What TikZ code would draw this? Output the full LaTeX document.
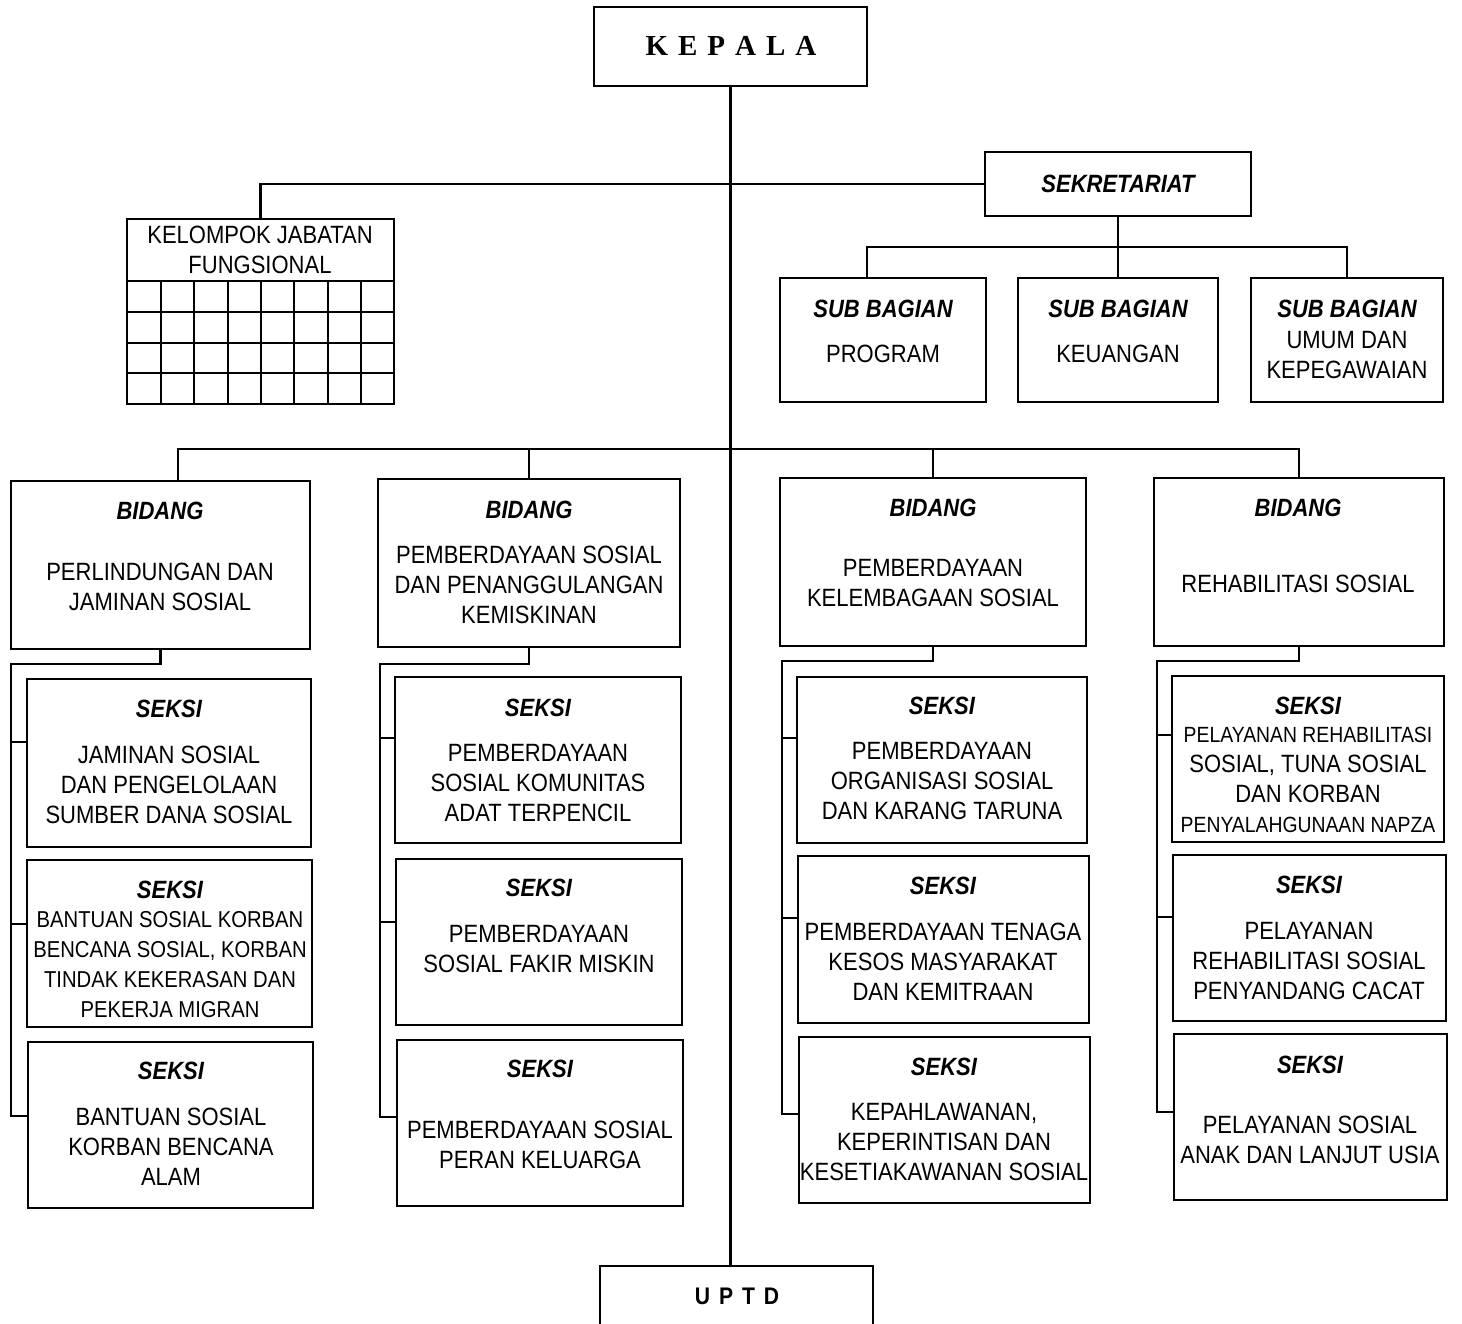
\documentclass[tikz,border=0pt]{standalone}
\usepackage{fontspec}
\setmainfont{Liberation Sans}[FakeStretch=0.88]
\newfontfamily\kepfont{Liberation Serif}
\newcommand\mkbox[5]{\node[box, minimum width={(#4-#2)*1pt}, minimum height={(#5-#3)*1pt}] (#1) at ({(#2+#4)/2},{(#3+#5)/2}) {};}
\begin{document}
\begin{tikzpicture}[x=1pt,y=-1pt,
  box/.style={draw, line width=2.6pt, inner sep=0pt, outer sep=0pt, rectangle},
  conn/.style={line width=2.2pt},
  lbl/.style={inner sep=0pt, align=center, font=\fontsize{25}{30}\selectfont},
  small/.style={inner sep=0pt, align=center, font=\fontsize{23}{30}\selectfont},
  hd/.style={inner sep=0pt, font=\fontsize{25}{30}\selectfont\bfseries\itshape}]
\useasboundingbox (0,0) rectangle (1462,1324);
\clip (0,0) rectangle (1462,1324);
\fill[white] (0,0) rectangle (1462,1324);

% boxes
\mkbox{kepala}{594}{7}{867}{86}
\mkbox{sekre}{985}{152}{1251}{216}
\mkbox{kjf}{127}{219}{394}{404}
\mkbox{sb1}{780}{278}{986}{402}
\mkbox{sb2}{1018}{278}{1218}{402}
\mkbox{sb3}{1251}{278}{1443}{402}
\mkbox{b1}{11}{481}{310}{649}
\mkbox{b2}{378}{479}{680}{647}
\mkbox{b3}{780}{478}{1086}{646}
\mkbox{b4}{1154}{478}{1444}{646}
\mkbox{s1a}{27}{679}{311}{847}
\mkbox{s1b}{27}{860}{312}{1027}
\mkbox{s1c}{28}{1042}{313}{1208}
\mkbox{s2a}{395}{677}{681}{843}
\mkbox{s2b}{396}{859}{682}{1025}
\mkbox{s2c}{397}{1040}{683}{1206}
\mkbox{s3a}{797}{677}{1087}{843}
\mkbox{s3b}{798}{856}{1089}{1023}
\mkbox{s3c}{799}{1037}{1090}{1203}
\mkbox{s4a}{1172}{676}{1444}{842}
\mkbox{s4b}{1173}{855}{1446}{1021}
\mkbox{s4c}{1174}{1034}{1447}{1200}
\mkbox{uptd}{600}{1266}{873}{1345}

% grid of kelompok jabatan fungsional
\draw[line width=2.4pt] (kjf.west |- 0,281) -- (kjf.east |- 0,281);
\foreach \yy in {312,343,373} \draw[line width=2.4pt] (kjf.west |- 0,\yy) -- (kjf.east |- 0,\yy);
\foreach \xx in {161,194,228,261,294,328,361} \draw[line width=2.4pt] (\xx,281) -- (kjf.south -| \xx,0);

% coordinates
\coordinate (sbL) at (867,247);
\coordinate (sbR) at (1347,247);
\coordinate (bL) at (178,449);
\coordinate (bR) at (1299,449);
\coordinate (j1) at (11,664);
\coordinate (j2) at (380,664);
\coordinate (j3) at (782,661);
\coordinate (j4) at (1157,661);
\coordinate (t1a) at (11,742);  \coordinate (t1b) at (11,924);  \coordinate (t1c) at (11,1116);
\coordinate (t2a) at (380,738); \coordinate (t2b) at (380,922); \coordinate (t2c) at (380,1117);
\coordinate (t3a) at (782,738); \coordinate (t3b) at (782,918); \coordinate (t3c) at (782,1114);
\coordinate (t4a) at (1157,735); \coordinate (t4b) at (1157,917); \coordinate (t4c) at (1157,1112);

% connectors
\draw[conn] (kepala.south) -- (kepala.south |- uptd.north);
\draw[conn] (kjf.north) |- (sekre.west);
\draw[conn] (sekre.south) -- (sekre.south |- sbL);
\draw[conn] (sbL |- sb1.north) -- (sbL) -- (sbR) -- (sbR |- sb3.north);
\draw[conn] (sb2.north) -- (sb2.north |- sbL);
\draw[conn] (bL |- b1.north) -- (bL) -- (bR) -- (bR |- b4.north);
\draw[conn] (b2.north) -- (b2.north |- bL);
\draw[conn] (b3.north) -- (b3.north |- bL);
\draw[conn] (b1.south) |- (j1) -- (t1c) -- (t1c -| s1c.west);
\draw[conn] (t1a) -- (t1a -| s1a.west);
\draw[conn] (t1b) -- (t1b -| s1b.west);
\draw[conn] (b2.south) |- (j2) -- (t2c) -- (t2c -| s2c.west);
\draw[conn] (t2a) -- (t2a -| s2a.west);
\draw[conn] (t2b) -- (t2b -| s2b.west);
\draw[conn] (b3.south) |- (j3) -- (t3c) -- (t3c -| s3c.west);
\draw[conn] (t3a) -- (t3a -| s3a.west);
\draw[conn] (t3b) -- (t3b -| s3b.west);
\draw[conn] (b4.south) |- (j4) -- (t4c) -- (t4c -| s4c.west);
\draw[conn] (t4a) -- (t4a -| s4a.west);
\draw[conn] (t4b) -- (t4b -| s4b.west);

% texts
\node[inner sep=0pt, font=\fontsize{29}{30}\kepfont\bfseries] (kepT) at (731,46) {K\hspace{10pt}E\hspace{10pt}P\hspace{10pt}A\hspace{10pt}L\hspace{10pt}A};
\node[hd] (sekreT) at (1118,184) {SEKRETARIAT};
\node[lbl] (kjfT) at (260,250) {KELOMPOK JABATAN\\FUNGSIONAL};

\node[hd] (sb1H) at (883,309) {SUB BAGIAN};
\node[lbl] (sb1T) at (883,354) {PROGRAM};
\node[hd] (sb2H) at (1118,309) {SUB BAGIAN};
\node[lbl] (sb2T) at (1118,354) {KEUANGAN};
\node[hd] (sb3H) at (1347,309) {SUB BAGIAN};
\node[lbl] (sb3T) at (1347,355) {UMUM DAN\\KEPEGAWAIAN};

\node[hd] (b1H) at (160,511) {BIDANG};
\node[lbl] (b1T) at (160,587) {PERLINDUNGAN DAN\\JAMINAN SOSIAL};
\node[hd] (b2H) at (529,510) {BIDANG};
\node[lbl] (b2T) at (529,585) {PEMBERDAYAAN SOSIAL\\DAN PENANGGULANGAN\\KEMISKINAN};
\node[hd] (b3H) at (933,508) {BIDANG};
\node[lbl] (b3T) at (933,583) {PEMBERDAYAAN\\KELEMBAGAAN SOSIAL};
\node[hd] (b4H) at (1298,508) {BIDANG};
\node[lbl] (b4T) at (1298,584) {REHABILITASI SOSIAL};

\node[hd] (s1aH) at (169,709) {SEKSI};
\node[lbl] (s1aT) at (169,785) {JAMINAN SOSIAL\\DAN PENGELOLAAN\\SUMBER DANA SOSIAL};
\node[hd] (s1bH) at (170,890) {SEKSI};
\node[small] (s1bT) at (170,965) {BANTUAN SOSIAL KORBAN\\BENCANA SOSIAL, KORBAN\\TINDAK KEKERASAN DAN\\PEKERJA MIGRAN};
\node[hd] (s1cH) at (171,1071) {SEKSI};
\node[lbl] (s1cT) at (171,1147) {BANTUAN SOSIAL\\KORBAN BENCANA\\ALAM};

\node[hd] (s2aH) at (538,708) {SEKSI};
\node[lbl] (s2aT) at (538,783) {PEMBERDAYAAN\\SOSIAL KOMUNITAS\\ADAT TERPENCIL};
\node[hd] (s2bH) at (539,888) {SEKSI};
\node[lbl] (s2bT) at (539,949) {PEMBERDAYAAN\\SOSIAL FAKIR MISKIN};
\node[hd] (s2cH) at (540,1069) {SEKSI};
\node[lbl] (s2cT) at (540,1145) {PEMBERDAYAAN SOSIAL\\PERAN KELUARGA};

\node[hd] (s3aH) at (942,706) {SEKSI};
\node[lbl] (s3aT) at (942,781) {PEMBERDAYAAN\\ORGANISASI SOSIAL\\DAN KARANG TARUNA};
\node[hd] (s3bH) at (943,886) {SEKSI};
\node[lbl] (s3bT) at (943,962) {PEMBERDAYAAN TENAGA\\KESOS MASYARAKAT\\DAN KEMITRAAN};
\node[hd] (s3cH) at (944,1067) {SEKSI};
\node[lbl] (s3cT) at (944,1142) {KEPAHLAWANAN,\\KEPERINTISAN DAN\\KESETIAKAWANAN SOSIAL};

\node[hd] (s4aH) at (1308,706) {SEKSI};
\node[lbl] (s4aT) at (1308,780) {{\fontsize{22}{30}\selectfont PELAYANAN REHABILITASI}\\SOSIAL, TUNA SOSIAL\\DAN KORBAN\\{\fontsize{22}{30}\selectfont PENYALAHGUNAAN NAPZA}};
\node[hd] (s4bH) at (1309,885) {SEKSI};
\node[lbl] (s4bT) at (1309,961) {PELAYANAN\\REHABILITASI SOSIAL\\PENYANDANG CACAT};
\node[hd] (s4cH) at (1310,1065) {SEKSI};
\node[lbl] (s4cT) at (1310,1140) {PELAYANAN SOSIAL\\ANAK DAN LANJUT USIA};

\node[inner sep=0pt, font=\fontsize{24}{30}\selectfont\bfseries] (uptdT) at (737,1296) {U\hspace{9pt}P\hspace{9pt}T\hspace{9pt}D};
\end{tikzpicture}
\end{document}
